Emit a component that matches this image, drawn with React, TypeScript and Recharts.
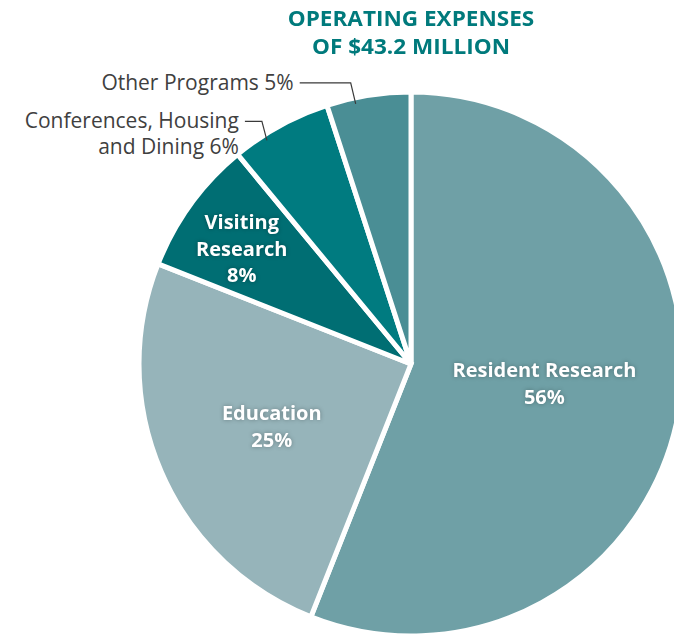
import { PieChart, Pie, Cell } from "recharts";

const categories = [
  "Resident Research",
  "Education",
  "Visiting Research",
  "Conferences, Housing and Dining",
  "Other Programs",
];
const shares = [56, 25, 8, 6, 5];
const colors = ["#6fa0a6", "#96b4ba", "#006e73", "#007b80", "#4a8e95"];
const titleLines = ["OPERATING EXPENSES", "OF $43.2 MILLION"];

const data = categories.map((name, i) => ({ name, value: shares[i] }));

const RAD = Math.PI / 180;
const FONT = "'Open Sans', 'Noto Sans', sans-serif";

// inside label lines, radius (fraction of outer radius) and angle nudge
const insideLabels: Record<number, { lines: string[]; r: number; da: number }> = {
  0: { lines: ["Resident Research", "56%"], r: 0.495, da: 3 },
  1: { lines: ["Education", "25%"], r: 0.56, da: 0.5 },
  2: { lines: ["Visiting", "Research", "8%"], r: 0.755, da: 1.5 },
};

// outside labels: leader goes up from the slice edge, then left
const outsideLabels: Record<number, { lines: string[]; da: number; lift: number; shift: number }> = {
  3: { lines: ["Conferences, Housing", "and Dining 6%"], da: 4, lift: 19, shift: 17 },
  4: { lines: ["Other Programs 5%"], da: 3, lift: 21, shift: 51 },
};

function renderLabel(props: any) {
  const { cx, cy, midAngle, outerRadius, index } = props;
  const inside = insideLabels[index];
  if (inside) {
    const a = (midAngle + inside.da) * RAD;
    const r = outerRadius * inside.r;
    const x = cx + r * Math.cos(-a);
    const y = cy + r * Math.sin(-a);
    const lh = 26.5;
    const y0 = y - ((inside.lines.length - 1) * lh) / 2;
    return (
      <text
        key={`in-${index}`}
        x={x}
        y={y0}
        fill="#ffffff"
        textAnchor="middle"
        dominantBaseline="central"
        fontFamily={FONT}
        fontWeight={700}
        fontSize={20}
        style={{ filter: "drop-shadow(0px 0px 2px rgba(0,0,0,0.3))" }}
      >
        {inside.lines.map((l, k) => (
          <tspan key={k} x={x} dy={k === 0 ? 0 : lh}>
            {l}
          </tspan>
        ))}
      </text>
    );
  }
  const out = outsideLabels[index];
  if (!out) return null;
  const a = (midAngle + out.da) * RAD;
  const r = outerRadius - 6;
  const sx = cx + r * Math.cos(-a);
  const sy = cy + r * Math.sin(-a);
  const ty = sy - out.lift;
  const tx = sx - 5;
  const ex = tx - out.shift;
  return (
    <g key={`out-${index}`}>
      <polyline
        points={`${sx},${sy} ${tx},${ty} ${ex},${ty}`}
        fill="none"
        stroke="#3a3a3a"
        strokeWidth={1.2}
      />
      <text
        x={ex - 6}
        y={ty - 1}
        fill="#404040"
        textAnchor="end"
        dominantBaseline="central"
        fontFamily={FONT}
        fontSize={21}
      >
        {out.lines.map((l, k) => (
          <tspan key={k} x={ex - 6} dy={k === 0 ? 0 : 26}>
            {l}
          </tspan>
        ))}
      </text>
    </g>
  );
}

export default function App() {
  return (
    <div style={{ margin: -8, width: 682, height: 642, background: "#fff", position: "relative" }}>
      {titleLines.map((t, i) => (
        <div
          key={t}
          style={{
            position: "absolute",
            top: 4 + i * 28,
            left: 411 - 200,
            width: 400,
            height: 28,
            textAlign: "center",
            color: "#007a7c",
            fontFamily: FONT,
            fontWeight: 700,
            fontSize: 20.5,
            lineHeight: "28px",
            transform: "scaleX(1.1)",
          }}
        >
          {t}
        </div>
      ))}
      <PieChart
        width={682}
        height={642}
        margin={{ top: 0, right: 0, bottom: 0, left: 0 }}
        style={{ position: "absolute", top: 0, left: 0 }}
      >
        <Pie
          data={data}
          dataKey="value"
          nameKey="name"
          cx={411}
          cy={364}
          outerRadius={272}
          startAngle={90}
          endAngle={-270}
          stroke="#ffffff"
          strokeWidth={5}
          label={renderLabel}
          labelLine={false}
          isAnimationActive={false}
        >
          {data.map((d, i) => (
            <Cell key={d.name} fill={colors[i]} />
          ))}
        </Pie>
      </PieChart>
    </div>
  );
}
